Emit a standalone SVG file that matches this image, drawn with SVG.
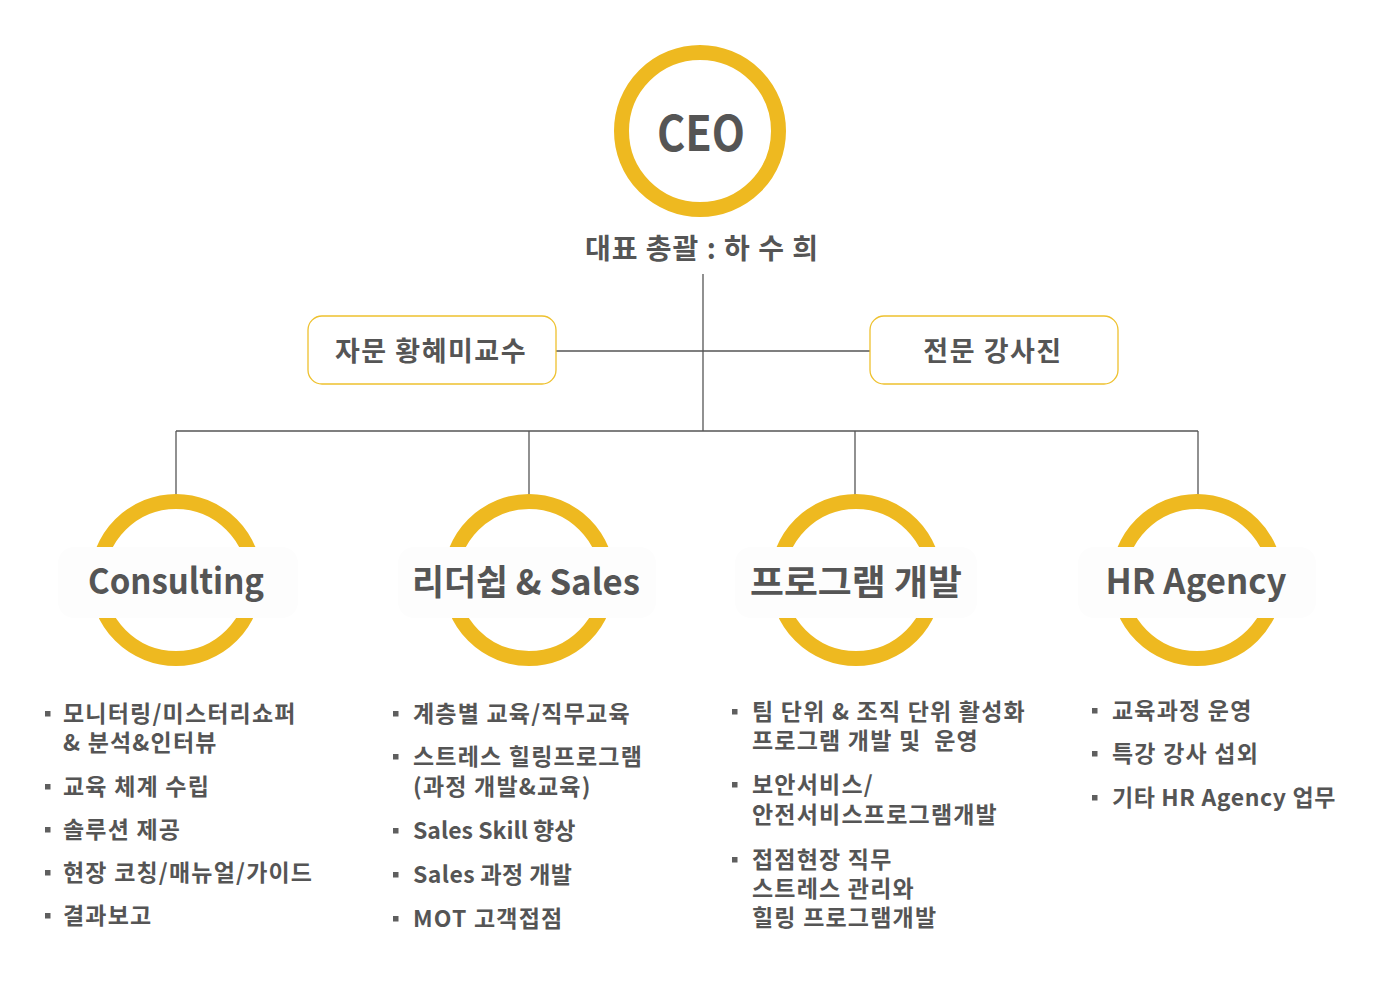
<svg xmlns="http://www.w3.org/2000/svg" width="1400" height="1000" viewBox="0 0 1400 1000">
  <style>
    text { font-family: "Noto Sans CJK KR", "Noto Sans", sans-serif; fill: #555555; font-weight: 700; }
    .ring { fill: none; stroke: #EEB920; stroke-width: 15; }
    .band { fill: #fdfdfd; }
    .title { font-size: 35px; text-anchor: middle; }
    .box { fill: #ffffff; stroke: #EEC12E; stroke-width: 1.3; }
    .boxlabel { font-size: 27px; text-anchor: middle; letter-spacing: 1.5px; }
    .item { font-size: 23px; letter-spacing: 1.2px; }
    .dot { fill: #5f5f5f; }
    .conn { stroke: #555555; stroke-width: 1.3; fill: none; }
  </style>
  <rect width="1400" height="1000" fill="#ffffff"/>

  <g id="connectors">
    <line class="conn" x1="703" y1="274" x2="703" y2="431"/>
    <line class="conn" x1="556" y1="351" x2="870" y2="351"/>
    <line class="conn" x1="176" y1="431" x2="1198" y2="431"/>
    <line class="conn" x1="176" y1="431" x2="176" y2="495"/>
    <line class="conn" x1="529" y1="431" x2="529" y2="495"/>
    <line class="conn" x1="855" y1="431" x2="855" y2="495"/>
    <line class="conn" x1="1198" y1="431" x2="1198" y2="495"/>
  </g>

  <g id="ceo">
    <circle class="ring" cx="700" cy="131" r="78.5"/>
    <text x="701" y="151" font-size="48" text-anchor="middle" textLength="88" lengthAdjust="spacingAndGlyphs">CEO</text>
    <text x="702" y="259" font-size="28" text-anchor="middle" letter-spacing="1">대표 총괄 : 하 수 희</text>
  </g>

  <g id="advisor">
    <rect class="box" x="308" y="316" width="248" height="68" rx="14"/>
    <text class="boxlabel" x="431" y="361">자문 황혜미교수</text>
  </g>

  <g id="instructors">
    <rect class="box" x="870" y="316" width="248" height="68" rx="14"/>
    <text class="boxlabel" x="993" y="361">전문 강사진</text>
  </g>

  <g id="consulting">
    <circle class="ring" cx="176" cy="580" r="78.5"/>
    <rect class="band" x="58" y="547" width="240" height="71" rx="16"/>
    <text class="title" x="176" y="594" textLength="176" lengthAdjust="spacingAndGlyphs">Consulting</text>
    <rect class="dot" x="45" y="711" width="5.5" height="5.5"/>
    <text class="item"><tspan x="63" y="722">모니터링/미스터리쇼퍼</tspan><tspan x="63" y="751">&amp; 분석&amp;인터뷰</tspan></text>
    <rect class="dot" x="45" y="784" width="5.5" height="5.5"/>
    <text class="item" x="63" y="795">교육 체계 수립</text>
    <rect class="dot" x="45" y="827" width="5.5" height="5.5"/>
    <text class="item" x="63" y="838">솔루션 제공</text>
    <rect class="dot" x="45" y="870" width="5.5" height="5.5"/>
    <text class="item" x="63" y="881">현장 코칭/매뉴얼/가이드</text>
    <rect class="dot" x="45" y="913" width="5.5" height="5.5"/>
    <text class="item" x="63" y="924">결과보고</text>
  </g>

  <g id="leadership">
    <circle class="ring" cx="529" cy="580" r="78.5"/>
    <rect class="band" x="398" y="547" width="258" height="71" rx="16"/>
    <text class="title" x="526" y="595" textLength="228" lengthAdjust="spacingAndGlyphs">리더쉽 &amp; Sales</text>
    <rect class="dot" x="393" y="711" width="5.5" height="5.5"/>
    <text class="item" x="413" y="722">계층별 교육/직무교육</text>
    <rect class="dot" x="393" y="754" width="5.5" height="5.5"/>
    <text class="item"><tspan x="413" y="765">스트레스 힐링프로그램</tspan><tspan x="413" y="795">(과정 개발&amp;교육)</tspan></text>
    <rect class="dot" x="393" y="828" width="5.5" height="5.5"/>
    <text class="item" x="413" y="839" style="letter-spacing:0">Sales Skill 향상</text>
    <rect class="dot" x="393" y="872" width="5.5" height="5.5"/>
    <text class="item" x="413" y="883" style="letter-spacing:0.4px">Sales 과정 개발</text>
    <rect class="dot" x="393" y="916" width="5.5" height="5.5"/>
    <text class="item" x="413" y="927">MOT 고객접점</text>
  </g>

  <g id="program">
    <circle class="ring" cx="856" cy="580" r="78.5"/>
    <rect class="band" x="735" y="547" width="242" height="71" rx="16"/>
    <text class="title" x="856" y="595" textLength="212" lengthAdjust="spacingAndGlyphs">프로그램 개발</text>
    <rect class="dot" x="732" y="709" width="5.5" height="5.5"/>
    <text class="item" xml:space="preserve" style="white-space:pre"><tspan x="752" y="720">팀 단위 &amp; 조직 단위 활성화</tspan><tspan x="752" y="749">프로그램 개발 및  운영</tspan></text>
    <rect class="dot" x="732" y="782" width="5.5" height="5.5"/>
    <text class="item"><tspan x="752" y="793">보안서비스/</tspan><tspan x="752" y="823">안전서비스프로그램개발</tspan></text>
    <rect class="dot" x="732" y="857" width="5.5" height="5.5"/>
    <text class="item"><tspan x="752" y="868">접점현장 직무</tspan><tspan x="752" y="897">스트레스 관리와</tspan><tspan x="752" y="926">힐링 프로그램개발</tspan></text>
  </g>

  <g id="hr-agency">
    <circle class="ring" cx="1197" cy="580" r="78.5"/>
    <rect class="band" x="1078" y="547" width="238" height="71" rx="16"/>
    <text class="title" x="1196" y="594" textLength="181" lengthAdjust="spacingAndGlyphs">HR Agency</text>
    <rect class="dot" x="1092" y="708" width="5.5" height="5.5"/>
    <text class="item" x="1112" y="719">교육과정 운영</text>
    <rect class="dot" x="1092" y="751" width="5.5" height="5.5"/>
    <text class="item" x="1112" y="762">특강 강사 섭외</text>
    <rect class="dot" x="1092" y="795" width="5.5" height="5.5"/>
    <text class="item" x="1112" y="806" style="letter-spacing:0.6px">기타 HR Agency 업무</text>
  </g>
</svg>
